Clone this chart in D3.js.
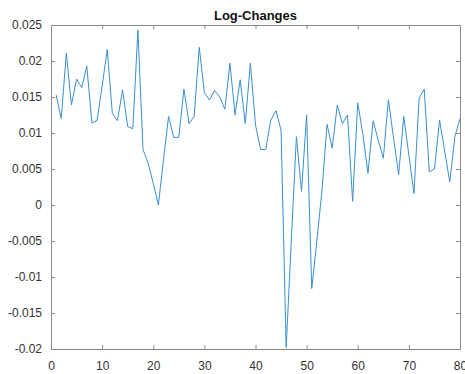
<!DOCTYPE html>
<html>
<head>
<meta charset="utf-8">
<script src="https://cdn.jsdelivr.net/npm/d3@7"></script>
<style>
  html, body { margin: 0; padding: 0; background: #fff; }
  svg { display: block; }
  text { font-family: "Liberation Sans", Arial, Helvetica, sans-serif; }
</style>
</head>
<body>
<svg id="chart" width="465" height="374"></svg>
<script>
// Period index (1..80) and log-change per period
const periods = d3.range(1, 81);
const logChanges = [
  0.0153, 0.0120, 0.0211, 0.0139, 0.0175, 0.0163, 0.0193, 0.0114, 0.0117, 0.0165,
  0.0216, 0.0127, 0.0117, 0.0160, 0.0109, 0.0106, 0.0243, 0.0077, 0.0058, 0.0030,
  0.0000, 0.0063, 0.0123, 0.0094, 0.0094, 0.0161, 0.0113, 0.0123, 0.0219, 0.0156,
  0.0146, 0.0159, 0.0150, 0.0133, 0.0197, 0.0125, 0.0174, 0.0113, 0.0197, 0.0111,
  0.0077, 0.0077, 0.0118, 0.0131, 0.0104, -0.0198, -0.0050, 0.0095, 0.0019, 0.0125,
  -0.0116, -0.0050, 0.0020, 0.0112, 0.0079, 0.0139, 0.0113, 0.0125, 0.0005, 0.0142,
  0.0098, 0.0044, 0.0117, 0.0090, 0.0065, 0.0146, 0.0093, 0.0042, 0.0123, 0.0069,
  0.0016, 0.0148, 0.0161, 0.0046, 0.0050, 0.0118, 0.0075, 0.0032, 0.0095, 0.0120
];
const xTicks = [0, 10, 20, 30, 40, 50, 60, 70, 80];
const yTicks = [-0.02, -0.015, -0.01, -0.005, 0, 0.005, 0.01, 0.015, 0.02, 0.025];
const chartTitle = "Log-Changes";

const svg = d3.select("#chart");
const plot = { left: 51, right: 460, top: 25, bottom: 349 };

const x = d3.scaleLinear().domain([0, 80]).range([plot.left, plot.right]);
const y = d3.scaleLinear().domain([-0.02, 0.025]).range([plot.bottom, plot.top]);

const axisColor = "#8a8a8a";
const labelColor = "#333";
const fmt = d => (d === 0 ? "0" : String(+d.toFixed(3)));

// Plot box with inward ticks on all four sides
function styleAxis(g) {
  g.select(".domain").attr("stroke", axisColor).attr("stroke-width", 1);
  g.selectAll(".tick line").attr("stroke", axisColor);
  g.selectAll(".tick text").attr("fill", labelColor).attr("font-size", 12);
}

svg.append("g").attr("transform", `translate(0,${plot.bottom})`)
  .call(d3.axisBottom(x).tickValues(xTicks).tickFormat(d3.format("d"))
    .tickSizeInner(-4).tickSizeOuter(0).tickPadding(12))
  .call(styleAxis);

svg.append("g").attr("transform", `translate(0,${plot.top})`)
  .call(d3.axisTop(x).tickValues(xTicks).tickFormat("")
    .tickSizeInner(-4).tickSizeOuter(0))
  .call(styleAxis);

svg.append("g").attr("transform", `translate(${plot.left},0)`)
  .call(d3.axisLeft(y).tickValues(yTicks).tickFormat(fmt)
    .tickSizeInner(-4).tickSizeOuter(0).tickPadding(9))
  .call(styleAxis);

svg.append("g").attr("transform", `translate(${plot.right},0)`)
  .call(d3.axisRight(y).tickValues(yTicks).tickFormat("")
    .tickSizeInner(-4).tickSizeOuter(0))
  .call(styleAxis);

// Series line
const line = d3.line()
  .x((d, i) => x(periods[i]))
  .y(d => y(d));

svg.append("defs").append("clipPath").attr("id", "plot-area")
  .append("rect").attr("x", plot.left).attr("y", plot.top)
  .attr("width", plot.right - plot.left).attr("height", plot.bottom - plot.top);

svg.append("path")
  .datum(logChanges)
  .attr("clip-path", "url(#plot-area)")
  .attr("fill", "none")
  .attr("stroke", "#3a8fd2")
  .attr("stroke-width", 1)
  .attr("stroke-linejoin", "round")
  .attr("d", line);

// Title
svg.append("text")
  .attr("x", (plot.left + plot.right) / 2)
  .attr("y", 20)
  .attr("text-anchor", "middle")
  .attr("font-size", 13)
  .attr("font-weight", "bold")
  .attr("fill", "#111")
  .text(chartTitle);
</script>
</body>
</html>
